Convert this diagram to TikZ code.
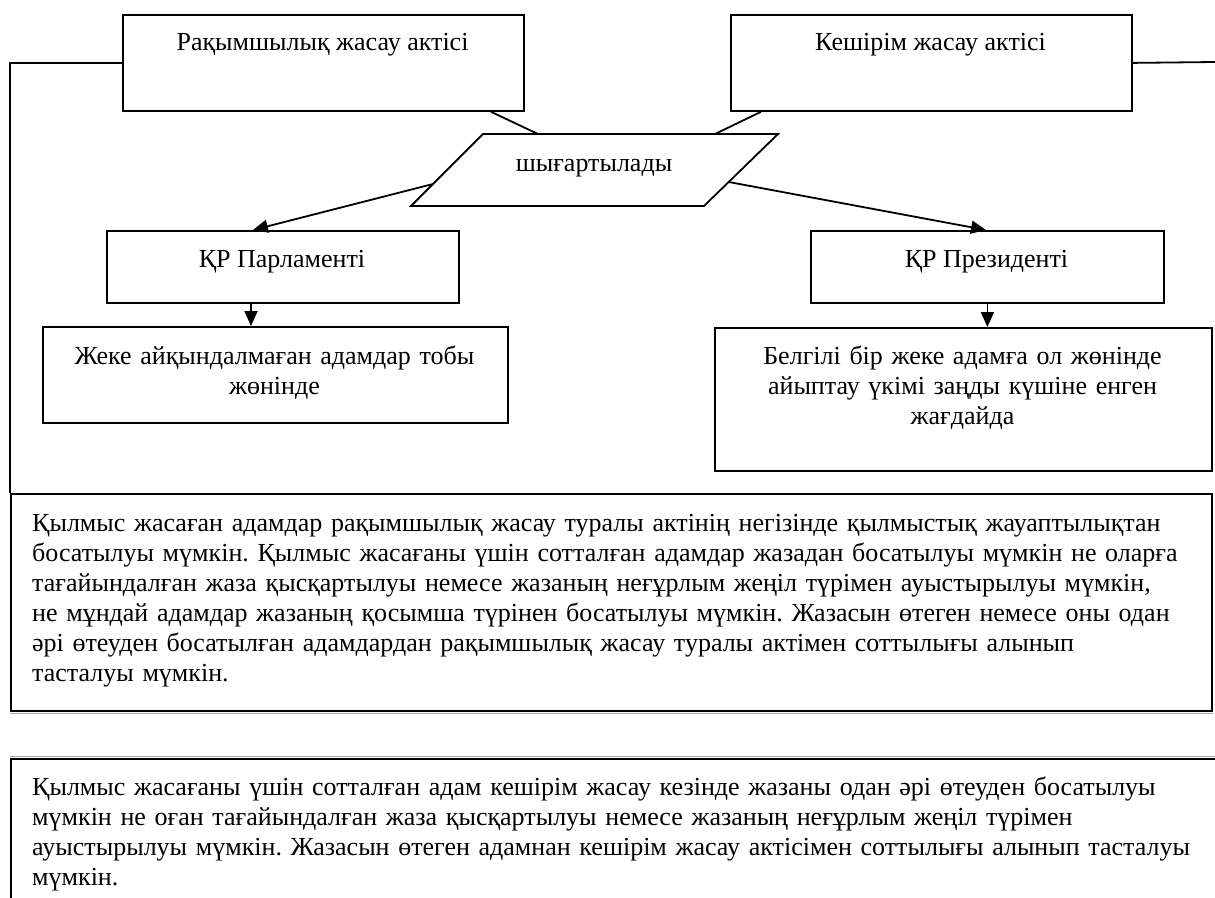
\documentclass[tikz,border=0pt]{standalone}
\usepackage{fontspec}
\setmainfont{Liberation Serif}
\usetikzlibrary{arrows.meta,calc}
\frenchspacing
\begin{document}
\begin{tikzpicture}[x=1pt,y=-1pt,
  box/.style={draw=black,line width=1.8pt,inner sep=0pt,anchor=north west,fill=white},
  txt/.style={inner sep=0pt,font=\fontsize{26pt}{30pt}\selectfont},
  link/.style={draw=black,line width=1.8pt},
  arr/.style={draw=black,line width=1.8pt,-{Triangle[length=15pt,width=13pt]}}
]
\useasboundingbox (0,0) rectangle (1215,897);
\clip (0,0) rectangle (1215,897);
\fill[white] (0,0) rectangle (1215,897);

% top boxes
\node[box,minimum width=401pt,minimum height=96pt] (b1) at (122,14) {};
\node[box,minimum width=401pt,minimum height=96pt] (b2) at (730,14) {};
\node[txt,anchor=base] (b1t) at (322.5,50) {Рақымшылық жасау актісі};
\node[txt,anchor=base] (b2t) at (930.5,50) {Кешірім жасау актісі};

% parallelogram
\coordinate (pTL) at (483,134);
\coordinate (pTR) at (778,134);
\coordinate (pBR) at (704,206);
\coordinate (pBL) at (411,206);
\draw[link,fill=white] (pTL) -- (pTR) -- (pBR) -- (pBL) -- cycle;
\node[txt,anchor=base] (pt) at (594,171) {шығартылады};
\coordinate (pIn1) at (538,134);
\coordinate (pIn2) at (715,134);
\coordinate (pOutL) at (433,184);
\coordinate (pOutR) at (728.7,182);

% middle boxes
\node[box,minimum width=352pt,minimum height=72pt] (parl) at (106,230) {};
\node[box,minimum width=353pt,minimum height=72pt] (pres) at (810,230) {};
\node[txt,anchor=base] (parlt) at (282,267) {ҚР Парламенті};
\node[txt,anchor=base] (prest) at (986.5,267) {ҚР Президенті};

% lower boxes
\node[box,minimum width=465pt,minimum height=96pt] (zheke) at (42,326) {};
\node[box,minimum width=497pt,minimum height=143pt] (belg) at (714,327) {};
\node[txt,anchor=base,text width=460pt,align=center] (zheket) at (274.5,364)
  {Жеке айқындалмаған адамдар тобы\\жөнінде};
\node[txt,anchor=base,text width=490pt,align=center] (belgt) at (962.5,364)
  {Белгілі бір жеке адамға ол жөнінде\\айыптау үкімі заңды күшіне енген\\жағдайда};

% text boxes
\node[box,minimum width=1201pt,minimum height=217pt] (t1) at (10,493) {};
\draw[gray!70,line width=1.2pt] ([yshift=-1.6pt]t1.south west) -- ([yshift=-1.6pt]t1.south east);
\node[txt,anchor=base west,text width=1190pt,align=left] (t1t) at (32,531)
  {Қылмыс жасаған адамдар рақымшылық жасау туралы актінің негізінде қылмыстық жауаптылықтан\\
   босатылуы мүмкін. Қылмыс жасағаны үшін сотталған адамдар жазадан босатылуы мүмкін не оларға\\
   тағайындалған жаза қысқартылуы немесе жазаның неғұрлым жеңіл түрімен ауыстырылуы мүмкін,\\
   не мұндай адамдар жазаның қосымша түрінен босатылуы мүмкін. Жазасын өтеген немесе оны одан\\
   әрі өтеуден босатылған адамдардан рақымшылық жасау туралы актімен соттылығы алынып\\
   тасталуы мүмкін.};

\node[box,minimum width=1215pt,minimum height=200pt] (t2) at (10,758) {};
\draw[gray!70,line width=1.2pt] ([yshift=1.6pt]t2.north west) -- ([yshift=1.6pt]t2.north east);
\node[txt,anchor=base west,text width=1190pt,align=left] (t2t) at (32,795)
  {Қылмыс жасағаны үшін сотталған адам кешірім жасау кезінде жазаны одан әрі өтеуден босатылуы\\
   мүмкін не оған тағайындалған жаза қысқартылуы немесе жазаның неғұрлым жеңіл түрімен\\
   ауыстырылуы мүмкін. Жазасын өтеген адамнан кешірім жасау актісімен соттылығы алынып тасталуы\\
   мүмкін.};

% connectors
\coordinate (redge) at (1215,62);
\draw[link] (b1.west) -| (t1.north west);
\draw[link] (b2.east) -- (redge);
\draw[link] ([xshift=369pt]b1.south west) -- (pIn1);
\draw[link] ([xshift=31pt]b2.south west) -- (pIn2);
\draw[arr] (pOutL) -- ([xshift=147pt]parl.north west);
\draw[arr] (pOutR) -- ([xshift=176pt]pres.north west);
\draw[arr] ([xshift=145pt]parl.south west) -- ([xshift=145pt]parl.south west |- zheke.north);
\draw[arr] (pres.south) -- (pres.south |- belg.north);
\end{tikzpicture}
\end{document}
